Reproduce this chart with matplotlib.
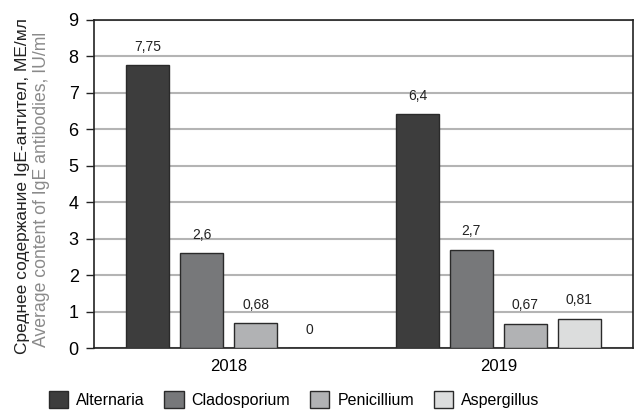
import matplotlib
matplotlib.use("Agg")
import matplotlib.pyplot as plt
import numpy as np

years = ["2018", "2019"]
fungi = ["Alternaria", "Cladosporium", "Penicillium", "Aspergillus"]
values = {
    "Alternaria": [7.75, 6.4],
    "Cladosporium": [2.6, 2.7],
    "Penicillium": [0.68, 0.67],
    "Aspergillus": [0.0, 0.81],
}
value_labels = {
    "Alternaria": ["7,75", "6,4"],
    "Cladosporium": ["2,6", "2,7"],
    "Penicillium": ["0,68", "0,67"],
    "Aspergillus": ["0", "0,81"],
}
colors = ["#3d3d3d", "#77787a", "#b1b2b4", "#dcdddd"]

plt.rcParams['font.family'] = ['Liberation Sans', 'DejaVu Sans']

fig = plt.figure(figsize=(6.35, 4.16), dpi=100)
ax = fig.add_axes([0.148, 0.163, 0.849, 0.79])

x = np.arange(len(years))
width = 0.16
step = 0.2
for i, name in enumerate(fungi):
    pos = x + (i - 1.5) * step
    ax.bar(pos, values[name], width=width, color=colors[i], edgecolor="#2a2a2a",
           linewidth=1.0, label=name, zorder=3)
    for px, v, lab in zip(pos, values[name], value_labels[name]):
        ax.text(px, v + 0.5, lab, ha='center', va='center', fontsize=10, color='#222222')

ax.set_xlim(-0.5, 1.5)
ax.set_ylim(0, 9)
ax.set_yticks(range(0, 10))
ax.set_xticks(x)
ax.set_xticklabels(years, fontsize=12)
ax.tick_params(axis='x', length=0, pad=8)
ax.tick_params(axis='y', labelsize=13, length=6, width=1, pad=5, color='#222222')
ax.yaxis.grid(True, color='#b4b4b4', linewidth=1.5, zorder=0)
for s in ax.spines.values():
    s.set_color('#222222')
    s.set_linewidth(1.2)

fig.text(0.035, 0.553, "Среднее содержание IgE-антител, МЕ/мл", rotation=90,
         ha='center', va='center', fontsize=12.5, color='#222222')
fig.text(0.066, 0.545, "Average content of IgE antibodies, IU/ml", rotation=90,
         ha='center', va='center', fontsize=12.7, color='#8a8a8a')

fig.legend(loc='lower center', bbox_to_anchor=(0.463, -0.015), ncol=4, frameon=False,
           fontsize=11.5, handlelength=1.2, handleheight=1.2, columnspacing=1.25,
           handletextpad=0.5)

fig.savefig("out.png", dpi=100)
